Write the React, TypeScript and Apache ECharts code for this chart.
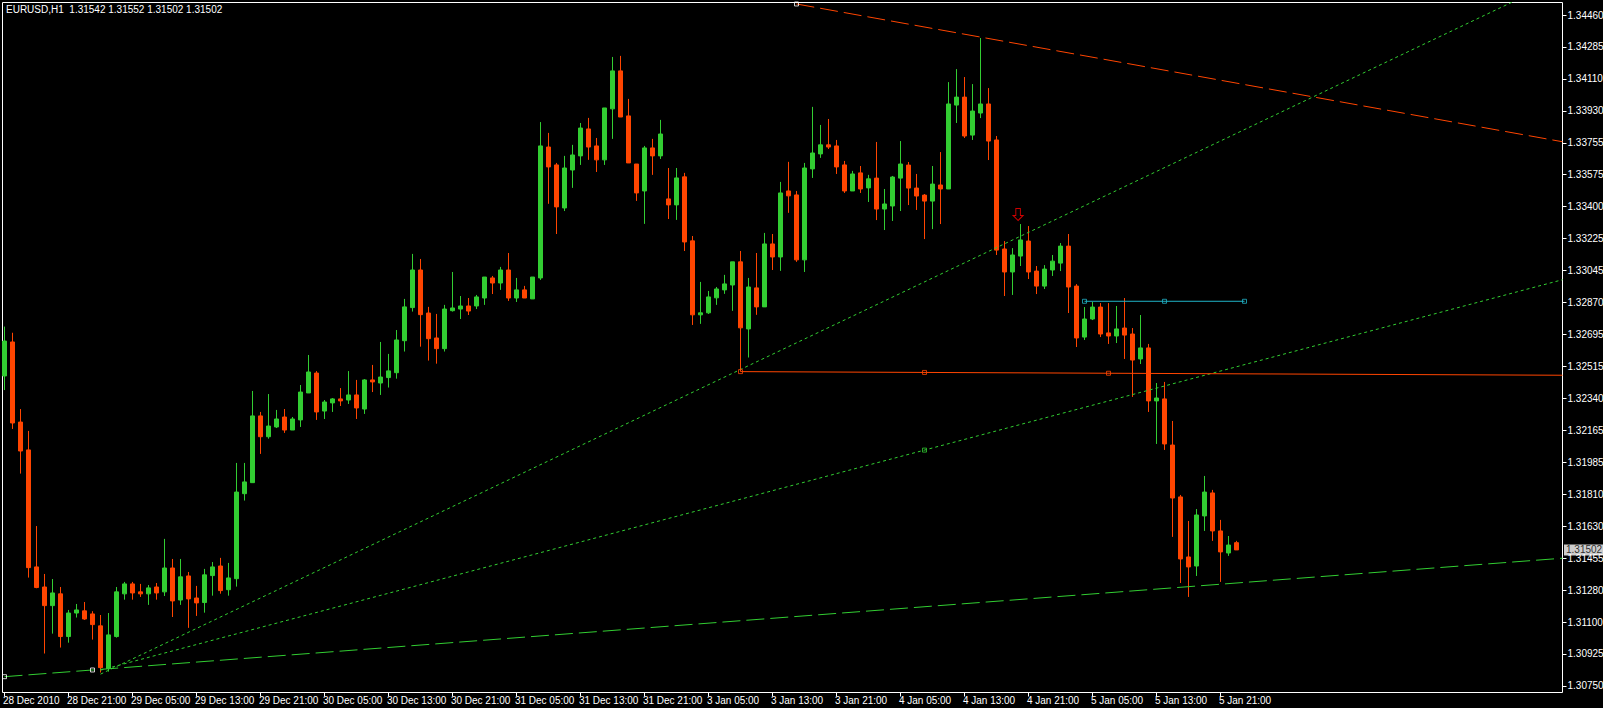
import React, { useEffect, useRef } from 'react';
import * as echarts from 'echarts';

const symbolName = 'EURUSD,H1';

const timeLabels = [
  '28 Dec 2010', '28 Dec 21:00', '29 Dec 05:00', '29 Dec 13:00', '29 Dec 21:00',
  '30 Dec 05:00', '30 Dec 13:00', '30 Dec 21:00', '31 Dec 05:00', '31 Dec 13:00',
  '31 Dec 21:00', '3 Jan 05:00', '3 Jan 13:00', '3 Jan 21:00', '4 Jan 05:00',
  '4 Jan 13:00', '4 Jan 21:00', '5 Jan 05:00', '5 Jan 13:00', '5 Jan 21:00',
];
const barsPerTimeLabel = 8;

const priceTicks = [
  '1.30750', '1.30925', '1.31100', '1.31280', '1.31455', '1.31630', '1.31810', '1.31985',
  '1.32165', '1.32340', '1.32515', '1.32695', '1.32870', '1.33045', '1.33225', '1.33400',
  '1.33575', '1.33755', '1.33930', '1.34110', '1.34285', '1.34460',
];

const opens = [
  1.32464, 1.32652, 1.32209, 1.32055, 1.31408, 1.31297, 1.31194, 1.31259, 1.31023, 1.31153,
  1.31165, 1.31148, 1.31082, 1.30846, 1.31023, 1.31259, 1.31314, 1.31270, 1.31259, 1.31297,
  1.31270, 1.31402, 1.31225, 1.31358, 1.31236, 1.31211, 1.31360, 1.31413, 1.31282, 1.31343,
  1.31813, 1.31874, 1.32243, 1.32128, 1.32182, 1.32237, 1.32165, 1.32221, 1.32370, 1.32480,
  1.32270, 1.32315, 1.32337, 1.32331, 1.32359, 1.32281, 1.32442, 1.32425, 1.32455, 1.32482,
  1.32659, 1.32842, 1.33050, 1.32812, 1.32674, 1.32615, 1.32825, 1.32834, 1.32851, 1.32851,
  1.32895, 1.33006, 1.32978, 1.33050, 1.32895, 1.32940, 1.32890, 1.33006, 1.33730, 1.33631,
  1.33393, 1.33603, 1.33681, 1.33830, 1.33736, 1.33659, 1.33941, 1.34151, 1.33902, 1.33636,
  1.33487, 1.33725, 1.33681, 1.33443, 1.33410, 1.33565, 1.33211, 1.32802, 1.32813, 1.32896,
  1.32940, 1.32967, 1.33095, 1.32724, 1.32951, 1.32846, 1.33194, 1.33122, 1.33487, 1.33465,
  1.33106, 1.33609, 1.33692, 1.33742, 1.33736, 1.33631, 1.33487, 1.33587, 1.33504, 1.33558,
  1.33387, 1.33404, 1.33558, 1.33630, 1.33503, 1.33464, 1.33431, 1.33520, 1.33498, 1.33962,
  1.34006, 1.33796, 1.33918, 1.33968, 1.33769, 1.33166, 1.33039, 1.33127, 1.33210, 1.33044,
  1.32961, 1.33050, 1.33088, 1.33182, 1.32961, 1.32679, 1.32779, 1.32845, 1.32702, 1.32685,
  1.32729, 1.32696, 1.32558, 1.32619, 1.32326, 1.32337, 1.32082, 1.31795, 1.31463, 1.31413,
  1.31690, 1.31817, 1.31607, 1.31485, 1.31542,
];
const highs = [
  1.32737, 1.32703, 1.32281, 1.32160, 1.31634, 1.31369, 1.31341, 1.31297, 1.31170, 1.31203,
  1.31214, 1.31163, 1.31142, 1.31153, 1.31297, 1.31325, 1.31325, 1.31314, 1.31308, 1.31319,
  1.31563, 1.31452, 1.31452, 1.31380, 1.31303, 1.31397, 1.31435, 1.31458, 1.31430, 1.31983,
  1.31983, 1.32381, 1.32265, 1.32364, 1.32276, 1.32281, 1.32237, 1.32414, 1.32580, 1.32491,
  1.32331, 1.32342, 1.32397, 1.32491, 1.32442, 1.32447, 1.32525, 1.32652, 1.32586, 1.32718,
  1.32890, 1.33139, 1.33111, 1.32846, 1.32807, 1.32857, 1.33039, 1.32906, 1.32895, 1.32912,
  1.33011, 1.33017, 1.33067, 1.33144, 1.33006, 1.32962, 1.33011, 1.33868, 1.33808, 1.33642,
  1.33681, 1.33742, 1.33863, 1.33891, 1.33780, 1.33946, 1.34228, 1.34234, 1.33996, 1.33636,
  1.33736, 1.33775, 1.33880, 1.33614, 1.33614, 1.33587, 1.33238, 1.32984, 1.32934, 1.32956,
  1.33023, 1.33095, 1.33155, 1.33006, 1.33144, 1.33255, 1.33249, 1.33537, 1.33648, 1.33487,
  1.33642, 1.33952, 1.33852, 1.33885, 1.33769, 1.33653, 1.33598, 1.33625, 1.33576, 1.33758,
  1.33498, 1.33570, 1.33763, 1.33647, 1.33581, 1.33470, 1.33625, 1.33702, 1.34089, 1.34161,
  1.34117, 1.34078, 1.34333, 1.34056, 1.33791, 1.33210, 1.33171, 1.33304, 1.33293, 1.33072,
  1.33077, 1.33133, 1.33199, 1.33249, 1.32972, 1.32845, 1.32873, 1.32867, 1.32867, 1.32851,
  1.32895, 1.32729, 1.32801, 1.32641, 1.32425, 1.32431, 1.32215, 1.31806, 1.31662, 1.31728,
  1.31911, 1.31834, 1.31668, 1.31579, 1.31552,
];
const lows = [
  1.32386, 1.32171, 1.31924, 1.31349, 1.31290, 1.30929, 1.31039, 1.30962, 1.30989, 1.31128,
  1.31115, 1.31006, 1.30824, 1.30829, 1.31017, 1.31227, 1.31227, 1.31242, 1.31198, 1.31227,
  1.31247, 1.31131, 1.31198, 1.31071, 1.31137, 1.31155, 1.31249, 1.31260, 1.31249, 1.31299,
  1.31775, 1.31874, 1.32033, 1.32117, 1.32176, 1.32149, 1.32165, 1.32182, 1.32370, 1.32221,
  1.32226, 1.32265, 1.32298, 1.32309, 1.32226, 1.32254, 1.32375, 1.32359, 1.32400, 1.32449,
  1.32599, 1.32820, 1.32626, 1.32549, 1.32532, 1.32599, 1.32820, 1.32779, 1.32801, 1.32834,
  1.32857, 1.32917, 1.32940, 1.32879, 1.32873, 1.32895, 1.32890, 1.32995, 1.33416, 1.33249,
  1.33376, 1.33504, 1.33631, 1.33659, 1.33592, 1.33631, 1.33775, 1.33896, 1.33642, 1.33432,
  1.33305, 1.33576, 1.33664, 1.33332, 1.33327, 1.33155, 1.32746, 1.32752, 1.32807, 1.32857,
  1.32918, 1.32824, 1.32488, 1.32566, 1.32802, 1.32846, 1.33050, 1.33045, 1.33366, 1.33095,
  1.33039, 1.33559, 1.33670, 1.33719, 1.33581, 1.33476, 1.33487, 1.33476, 1.33426, 1.33326,
  1.33271, 1.33321, 1.33376, 1.33409, 1.33382, 1.33221, 1.33276, 1.33304, 1.33498, 1.33863,
  1.33780, 1.33769, 1.33890, 1.33658, 1.33133, 1.32906, 1.32912, 1.33072, 1.33000, 1.32917,
  1.32945, 1.33017, 1.33044, 1.32812, 1.32624, 1.32663, 1.32773, 1.32679, 1.32641, 1.32646,
  1.32558, 1.32348, 1.32530, 1.32265, 1.32088, 1.32055, 1.31574, 1.31319, 1.31242, 1.31358,
  1.31607, 1.31552, 1.31325, 1.31469, 1.31502,
];
const closes = [
  1.32657, 1.32204, 1.32049, 1.31404, 1.31294, 1.31194, 1.31264, 1.31023, 1.31153, 1.31170,
  1.31120, 1.31089, 1.30851, 1.31032, 1.31270, 1.31314, 1.31264, 1.31259, 1.31292, 1.31264,
  1.31402, 1.31220, 1.31353, 1.31231, 1.31209, 1.31364, 1.31408, 1.31277, 1.31347, 1.31822,
  1.31878, 1.32243, 1.32128, 1.32187, 1.32226, 1.32165, 1.32226, 1.32375, 1.32486, 1.32265,
  1.32320, 1.32337, 1.32326, 1.32359, 1.32287, 1.32442, 1.32431, 1.32458, 1.32492, 1.32663,
  1.32846, 1.33050, 1.32803, 1.32670, 1.32615, 1.32834, 1.32840, 1.32851, 1.32823, 1.32901,
  1.33011, 1.32978, 1.33050, 1.32895, 1.32940, 1.32895, 1.33011, 1.33736, 1.33620, 1.33399,
  1.33614, 1.33686, 1.33835, 1.33730, 1.33659, 1.33946, 1.34151, 1.33896, 1.33642, 1.33476,
  1.33725, 1.33681, 1.33802, 1.33410, 1.33559, 1.33205, 1.32802, 1.32813, 1.32901, 1.32945,
  1.32973, 1.33095, 1.32730, 1.32956, 1.32846, 1.33194, 1.33122, 1.33476, 1.33460, 1.33106,
  1.33614, 1.33697, 1.33742, 1.33730, 1.33620, 1.33487, 1.33581, 1.33498, 1.33554, 1.33387,
  1.33415, 1.33564, 1.33636, 1.33503, 1.33459, 1.33431, 1.33525, 1.33498, 1.33968, 1.34006,
  1.33791, 1.33929, 1.33968, 1.33763, 1.33160, 1.33039, 1.33133, 1.33216, 1.33039, 1.32961,
  1.33055, 1.33099, 1.33182, 1.32956, 1.32674, 1.32779, 1.32845, 1.32696, 1.32685, 1.32724,
  1.32690, 1.32552, 1.32619, 1.32326, 1.32342, 1.32088, 1.31789, 1.31452, 1.31408, 1.31695,
  1.31822, 1.31607, 1.31491, 1.31529, 1.31502,
];

// Chart objects, as [bar index, price]
const resistanceLine = [[99, 1.34521], [122, 1.34338]];
const steepFanLine = [[12, 1.30815], [129, 1.33279]];
const shallowFanLine = [[12, 1.30837], [115, 1.32054]];
const supportLine = [[0, 1.30801], [11, 1.30838]];
const redLevelLine = [[92, 1.32488], [138, 1.32479]];
const cyanLevelLine = [[135, 1.32877], [155, 1.32877]];
const sellArrow = [126.7, 1.33357];

const X_MIN = -0.25;
const X_MAX = 194.75;
const Y_MIN = 1.307135;
const Y_MAX = 1.345292;

const FONT = 'Tahoma, "Liberation Sans", Arial, sans-serif';
const FONT_SIZE = 10;
const BULL = '#32CD32';
const BEAR = '#FF4500';
const FIB_GREEN = '#32CD32';
const CYAN = '#20B4C8';

function ray(line: number[][]) {
  const [a, b] = line;
  const slope = (b[1] - a[1]) / (b[0] - a[0]);
  return [a, [X_MAX, a[1] + slope * (X_MAX - a[0])]];
}
function withMid(line: number[][]) {
  const [a, b] = line;
  return [a, [(a[0] + b[0]) / 2, (a[1] + b[1]) / 2], b];
}

export default function App() {
  const ref = useRef<HTMLDivElement>(null);
  useEffect(() => {
    document.body.style.margin = '0';
    document.body.style.background = '#000';
    const chart = echarts.init(ref.current!, null, { renderer: 'svg' });
    const n = opens.length;
    const last = n - 1;
    const title = `${symbolName}  ${opens[last].toFixed(5)} ${highs[last].toFixed(5)} ${lows[last].toFixed(5)} ${closes[last].toFixed(5)}`;
    const candles = opens.map((o, i) => [i, o, closes[i], lows[i], highs[i]]);

    const y0 = parseFloat(priceTicks[0]);
    const y1 = parseFloat(priceTicks[priceTicks.length - 1]);
    const yStep = (y1 - y0) / (priceTicks.length - 1);
    const yTickValues = priceTicks.map((_, k) => y0 + k * yStep);

    const xTickValues = timeLabels.map((_, k) => k * barsPerTimeLabel);
    const xLabelValues = timeLabels.map((_, k) => k * barsPerTimeLabel - 0.2);

    const lineSeries = (data: number[][], color: string, type: any, z = 5) => ({
      type: 'line',
      data,
      symbol: 'none',
      silent: true,
      clip: true,
      z,
      lineStyle: { color, width: 1, type },
    });
    const squares = (data: number[][], color: string) => ({
      type: 'scatter',
      data,
      symbol: 'rect',
      symbolSize: 4,
      silent: true,
      z: 6,
      itemStyle: { color: 'rgba(0,0,0,0)', borderColor: color, borderWidth: 1 },
    });

    const option: any = {
      animation: false,
      backgroundColor: '#000',
      title: {
        text: title,
        left: 6,
        top: 4,
        padding: 0,
        textStyle: { color: '#fff', fontSize: FONT_SIZE, fontWeight: 'normal', fontFamily: FONT },
      },
      grid: {
        left: 2.5,
        top: 2.5,
        right: 40.5,
        bottom: 15.5,
        outerBoundsMode: 'none',
        containLabel: false,
        show: true,
        borderColor: '#fff',
        borderWidth: 1,
        backgroundColor: '#000',
      },
      xAxis: {
        type: 'value',
        min: X_MIN,
        max: X_MAX,
        axisLine: { show: false, onZero: false },
        splitLine: { show: false },
        axisTick: {
          show: true,
          length: 4,
          customValues: xTickValues,
          lineStyle: { color: '#fff', width: 1 },
        },
        axisLabel: {
          customValues: xLabelValues,
          align: 'left',
          margin: 3,
          color: '#fff',
          fontSize: FONT_SIZE,
          fontFamily: FONT,
          formatter: (v: number) => timeLabels[Math.round((v + 0.2) / barsPerTimeLabel)] ?? '',
        },
      },
      yAxis: {
        type: 'value',
        position: 'right',
        min: Y_MIN,
        max: Y_MAX,
        axisLine: { show: false, onZero: false },
        splitLine: { show: false },
        axisTick: {
          show: true,
          length: 4,
          customValues: yTickValues,
          lineStyle: { color: '#fff', width: 1 },
        },
        axisLabel: {
          customValues: yTickValues,
          margin: 5,
          color: '#fff',
          fontSize: FONT_SIZE,
          fontFamily: FONT,
          formatter: (v: number) => priceTicks[Math.round((v - y0) / yStep)] ?? '',
        },
      },
      series: [
        {
          type: 'candlestick',
          data: candles,
          barWidth: 4,
          z: 3,
          itemStyle: {
            color: BULL,
            color0: BEAR,
            borderColor: BULL,
            borderColor0: BEAR,
            borderWidth: 1,
          },
        },
        lineSeries(ray(resistanceLine), BEAR, [18, 6]),
        lineSeries(ray(steepFanLine), FIB_GREEN, [3, 3]),
        lineSeries(ray(shallowFanLine), FIB_GREEN, [3, 3]),
        lineSeries(ray(supportLine), FIB_GREEN, [18, 6]),
        lineSeries(ray(redLevelLine), BEAR, 'solid'),
        lineSeries(cyanLevelLine, CYAN, 'solid'),
        squares(withMid(redLevelLine), BEAR),
        squares(withMid(cyanLevelLine), CYAN),
        squares([resistanceLine[0], supportLine[0], supportLine[1]], '#fff'),
        squares([shallowFanLine[1]], FIB_GREEN),
        {
          type: 'scatter',
          data: [sellArrow],
          symbol: 'path://M3 0 H8 V7 H11 L5.5 12 L0 7 H3 Z',
          symbolSize: [10, 12],
          silent: true,
          z: 7,
          itemStyle: { color: 'rgba(0,0,0,0)', borderColor: '#FF0000', borderWidth: 1 },
        },
        {
          // current bid price tag on the price scale
          type: 'scatter',
          data: [[X_MAX, closes[last]]],
          symbol: 'circle',
          symbolSize: 1,
          clip: false,
          silent: true,
          z: 10,
          itemStyle: { color: 'rgba(0,0,0,0)' },
          label: {
            show: true,
            position: 'right',
            distance: 1,
            formatter: closes[last].toFixed(5),
            color: '#000',
            backgroundColor: '#fff',
            fontSize: FONT_SIZE,
            fontFamily: FONT,
            padding: [1, 3, 0, 2],
          },
        },
      ],
    };
    chart.setOption(option);
    return () => chart.dispose();
  }, []);
  return <div ref={ref} style={{ width: 1603, height: 708 }} />;
}
